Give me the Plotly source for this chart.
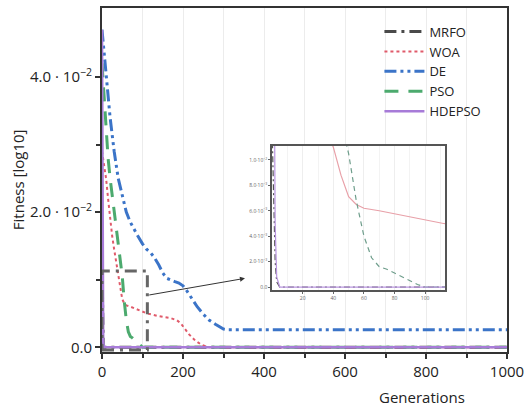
import plotly.graph_objects as go

# ---- data ----
mrfo_x = [0, 1, 2, 3, 5, 1000]
mrfo_y = [0.0125, 0.008, 0.002, 0.0004, 0.0, 0.0]

woa_x = [0, 5, 10, 15, 20, 25, 30, 35, 40, 45, 50, 55, 60, 70, 90, 112, 140, 170, 185, 195,
         205, 215, 230, 245, 258, 265, 1000]
woa_y = [0.029, 0.027, 0.025, 0.022, 0.019, 0.0165, 0.0145, 0.0125, 0.011, 0.0088, 0.0071,
         0.0065, 0.0062, 0.006, 0.0055, 0.005, 0.0046, 0.0043, 0.0040, 0.0035, 0.0027,
         0.0019, 0.0010, 0.0004, 0.0001, 0.0, 0.0]

de_x = [0, 10, 20, 30, 40, 50, 60, 70, 80, 90, 100, 110, 120, 130, 140, 150, 160, 170, 180,
        190, 200, 210, 220, 235, 250, 265, 280, 290, 300, 310, 320, 1000]
de_y = [0.047, 0.040, 0.034, 0.029, 0.025, 0.0225, 0.020, 0.0185, 0.0173, 0.0163, 0.0153,
        0.0145, 0.0140, 0.0132, 0.0122, 0.0110, 0.0102, 0.0099, 0.0097, 0.0095, 0.0091,
        0.0083, 0.0073, 0.0060, 0.0049, 0.0040, 0.0034, 0.0030, 0.0027, 0.0026, 0.0026,
        0.0026]

pso_x = [0, 5, 10, 15, 20, 25, 30, 35, 40, 45, 50, 55, 60, 65, 70, 75, 80, 85, 90, 95, 100, 1000]
pso_y = [0.042, 0.037, 0.032, 0.028, 0.025, 0.0225, 0.020, 0.0178, 0.0155, 0.013, 0.0105,
         0.0068, 0.0040, 0.0023, 0.0016, 0.0014, 0.0011, 0.0008, 0.0005, 0.0002, 0.0, 0.0]

hdepso_x = [0, 1, 2, 3, 5, 1000]
hdepso_y = [0.047, 0.02, 0.005, 0.0008, 0.0, 0.0]

names = ["MRFO", "WOA", "DE", "PSO", "HDEPSO"]
xs = [mrfo_x, woa_x, de_x, pso_x, hdepso_x]
ys = [mrfo_y, woa_y, de_y, pso_y, hdepso_y]
colors = ["#4a4a4a", "#e05a6a", "#3b74c8", "#4caa6e", "#a77bd8"]
dashes = ["12px,5px,3px,5px", "dot", "12px,4px,3px,4px,3px,4px", "14px,10px", "solid"]
widths = [3, 2, 3, 3, 2.5]

main_yticks = [0.0, 0.02, 0.04]
main_yticktext = ["0.0", "2.0 · 10<sup>−2</sup>", "4.0 · 10<sup>−2</sup>"]
main_xticks = [0, 200, 400, 600, 800, 1000]

inset_xticks = [20, 40, 60, 80, 100]
inset_yticks = [0.0, 0.002, 0.004, 0.006, 0.008, 0.010]
inset_yticktext = ["0.0", "2.0·10<sup>−3</sup>", "4.0·10<sup>−3</sup>", "6.0·10<sup>−3</sup>",
                   "8.0·10<sup>−3</sup>", "1.0·10<sup>−2</sup>"]
inset_colors = ["#555555", "#e8a0a8", "#6f95cc", "#6f9e8c", "#b995e0"]
inset_dashes = ["6px,3px,2px,3px", "solid", "6px,2px,2px,2px", "5px,4px", "solid"]

fig = go.Figure()

for n, x, y, c, d, w in zip(names, xs, ys, colors, dashes, widths):
    fig.add_trace(go.Scatter(x=x, y=y, name=n, mode="lines",
                             line=dict(color=c, dash=d, width=w)))

for n, x, y, c, d in zip(names, xs, ys, inset_colors, inset_dashes):
    fig.add_trace(go.Scatter(x=x, y=y, name=n, mode="lines", showlegend=False,
                             xaxis="x2", yaxis="y2",
                             line=dict(color=c, dash=d, width=1.2)))

font = "Open Sans, Noto Sans, sans-serif"

fig.update_layout(
    width=525, height=411,
    margin=dict(l=102, r=18, t=8, b=59),
    paper_bgcolor="white", plot_bgcolor="white",
    font=dict(family=font, color="#222222", size=15),
    showlegend=True,
    legend=dict(x=0.685, y=0.975, xanchor="left", yanchor="top",
                bgcolor="rgba(0,0,0,0)", font=dict(size=13), tracegroupgap=0,
                itemwidth=40),
    xaxis=dict(range=[0, 1000], tickvals=main_xticks, ticks="outside", ticklen=5,
               tickwidth=1.5, tickcolor="#333", showline=True, linecolor="#333",
               linewidth=2, mirror=True, showgrid=True, gridcolor="#ececec",
               zeroline=False, automargin=False,
               minor=dict(tickvals=[100, 300, 500, 700, 900], ticks="outside",
                          ticklen=4, tickcolor="#333", showgrid=True, gridcolor="#ececec"),
               tickfont=dict(size=15)),
    yaxis=dict(range=[-0.0007, 0.0502], tickvals=main_yticks, ticktext=main_yticktext,
               ticks="outside", ticklen=5, tickwidth=1.5, tickcolor="#333",
               showline=True, linecolor="#333", linewidth=2, mirror=True,
               showgrid=False, zeroline=False, automargin=False,
               minor=dict(tickvals=[0.01, 0.03], ticks="outside", ticklen=4, tickcolor="#333"),
               tickfont=dict(size=15)),
    xaxis2=dict(domain=[0.42, 0.847], anchor="y2", range=[0, 113], tickvals=inset_xticks,
                ticks="outside", ticklen=2, tickcolor="#666", showline=True,
                linecolor="#555", linewidth=1.5, mirror=True, showgrid=True,
                gridcolor="#eeeeee", zeroline=False, automargin=False,
                tickfont=dict(size=5, color="#666"),
                minor=dict(dtick=10, showgrid=True, gridcolor="#f3f3f3")),
    yaxis2=dict(domain=[0.18, 0.599], anchor="x2", range=[-0.00024, 0.0111],
                tickvals=inset_yticks, ticktext=inset_yticktext, ticks="outside",
                ticklen=2, tickcolor="#666", showline=True, linecolor="#555",
                linewidth=1.5, mirror=True, showgrid=False, zeroline=False,
                automargin=False, tickfont=dict(size=5, color="#666")),
)

fig.add_shape(type="rect", xref="x", yref="y", x0=0, x1=112, y0=-0.0004, y1=0.0113,
              line=dict(color="#666666", width=3, dash="12px,6px,3px,6px"))

fig.add_annotation(xref="x", yref="y", axref="x", ayref="y", x=353, y=0.0102,
                   ax=113, ay=0.0077, showarrow=True, arrowhead=2, arrowsize=1,
                   arrowwidth=1, arrowcolor="#333", text="")

fig.add_annotation(xref="paper", yref="paper", x=0.79, y=-0.131, text="Generations",
                   xanchor="center", yanchor="middle", showarrow=False, font=dict(size=15))
fig.add_annotation(xref="paper", yref="paper", x=-0.207, y=0.5, text="Fitness [log10]",
                   xanchor="center", yanchor="middle", textangle=-90, showarrow=False,
                   font=dict(size=15))

fig.write_html("out.html", config={"displayModeBar": False},
               post_script="document.body.style.margin='0px';")
